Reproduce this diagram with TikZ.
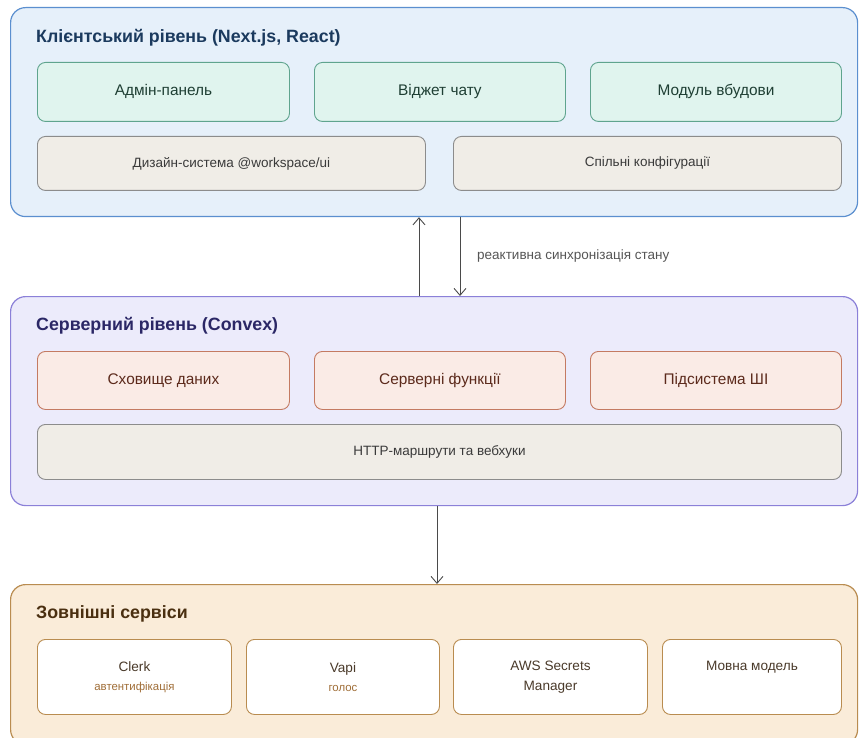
\documentclass[tikz,border=0pt]{standalone}
\usepackage{fontspec}
\setmainfont{Liberation Sans}
\usetikzlibrary{arrows.meta}
\definecolor{cliFill}{HTML}{E6F0FA}
\definecolor{cliDraw}{HTML}{5B8FCF}
\definecolor{cliText}{HTML}{1B3A5E}
\definecolor{grnFill}{HTML}{E0F4EE}
\definecolor{grnDraw}{HTML}{5FA48E}
\definecolor{grnText}{HTML}{1F3F34}
\definecolor{gryFill}{HTML}{F0EDE7}
\definecolor{gryDraw}{HTML}{8C8C8C}
\definecolor{gryText}{HTML}{3A3A3A}
\definecolor{srvFill}{HTML}{ECEBFB}
\definecolor{srvDraw}{HTML}{8B80D8}
\definecolor{srvText}{HTML}{2B2766}
\definecolor{redFill}{HTML}{FAEBE6}
\definecolor{redDraw}{HTML}{C47A62}
\definecolor{redText}{HTML}{5C2A1C}
\definecolor{extFill}{HTML}{FAECD9}
\definecolor{extDraw}{HTML}{B98C50}
\definecolor{extText}{HTML}{4A2F10}
\definecolor{extMain}{HTML}{4A3A2A}
\definecolor{extSub}{HTML}{A06E38}
\definecolor{arrGray}{HTML}{4A4A4A}
\definecolor{lblGray}{HTML}{555555}
\newcommand{\subtxt}{\color{extSub}\fontsize{11.4}{13}\selectfont}
\tikzset{
  layer/.style={draw, line width=1.2pt, rounded corners=15pt, anchor=north west, inner sep=0pt},
  box/.style={draw, line width=0.9pt, rounded corners=8pt, anchor=north west, inner sep=0pt, align=center},
  grnbox/.style={box, fill=grnFill, draw=grnDraw, text=grnText, font=\fontsize{15.4}{17}\selectfont},
  grybox/.style={box, fill=gryFill, draw=gryDraw, text=gryText, font=\fontsize{13.5}{15}\selectfont},
  redbox/.style={box, fill=redFill, draw=redDraw, text=redText, font=\fontsize{15.4}{17}\selectfont},
  extbox/.style={box, fill=white, draw=extDraw, text=extMain, font=\fontsize{13.6}{20}\selectfont},
  ttl/.style={anchor=west, inner sep=0pt, font=\bfseries\fontsize{17.8}{20}\selectfont},
  arr/.style={draw=arrGray, line width=0.9pt, -{Straight Barb[length=7pt,width=12pt,line width=0.9pt]}},
  lbl/.style={anchor=west, inner sep=0pt, text=lblGray, font=\fontsize{13.5}{15}\selectfont}
}
\begin{document}
\begin{tikzpicture}[x=1pt, y=-1pt]
\useasboundingbox (0,0) rectangle (859,738);
% layers
\node[layer, fill=cliFill, draw=cliDraw, minimum width=847pt, minimum height=209pt] (client) at (10,7) {};
\node[layer, fill=srvFill, draw=srvDraw, minimum width=847pt, minimum height=209pt] (server) at (10,296) {};
\node[layer, fill=extFill, draw=extDraw, minimum width=847pt, minimum height=160pt] (ext) at (10,584) {};
% titles
\node[ttl, text=cliText] (tcli) at (36,38) {Клієнтський рівень (Next.js, React)};
\node[ttl, text=srvText] (tsrv) at (36,326) {Серверний рівень (Convex)};
\node[ttl, text=extText] (text) at (36,614) {Зовнішні сервіси};
% client boxes
\node[grnbox, minimum width=252pt, minimum height=59pt] (admin) at (37,62) {Адмін-панель};
\node[grnbox, minimum width=251pt, minimum height=59pt] (widget) at (314,62) {Віджет чату};
\node[grnbox, minimum width=251pt, minimum height=59pt] (embed) at (590,62) {Модуль вбудови};
\node[grybox, minimum width=388pt, minimum height=54pt] (design) at (37,136) {Дизайн-система @workspace/ui};
\node[grybox, minimum width=388pt, minimum height=54pt] (configs) at (453,136) {Спільні конфігурації};
% server boxes
\node[redbox, minimum width=252pt, minimum height=58pt] (store) at (37,351) {Сховище даних};
\node[redbox, minimum width=251pt, minimum height=58pt] (funcs) at (314,351) {Серверні функції};
\node[redbox, minimum width=251pt, minimum height=58pt] (ai) at (590,351) {Підсистема ШІ};
\node[grybox, minimum width=804pt, minimum height=55pt] (http) at (37,424) {HTTP-маршрути та вебхуки};
% external boxes
\node[extbox, minimum width=194pt, minimum height=75pt] (clerk) at (37,639) {Clerk\\[-1pt]{\subtxt автентифікація}};
\node[extbox, minimum width=193pt, minimum height=75pt] (vapi) at (246,639) {Vapi\\[-1pt]{\subtxt голос}};
\node[extbox, minimum width=194pt, minimum height=75pt] (aws) at (453,639) {AWS Secrets\\Manager};
\node[extbox, minimum width=179pt, minimum height=75pt] (llm) at (662,639) {Мовна модель\\[-4pt]\strut};
% connectors
\coordinate (xup) at (419,0);
\coordinate (xdown) at (460,0);
\coordinate (xext) at (437,0);
\draw[arr] (server.north -| xup) -- (client.south -| xup);
\draw[arr] (client.south -| xdown) -- (server.north -| xdown);
\node[lbl] (sync) at (477,256) {реактивна синхронізація стану};
\draw[arr] (server.south -| xext) -- (ext.north -| xext);
\end{tikzpicture}
\end{document}
